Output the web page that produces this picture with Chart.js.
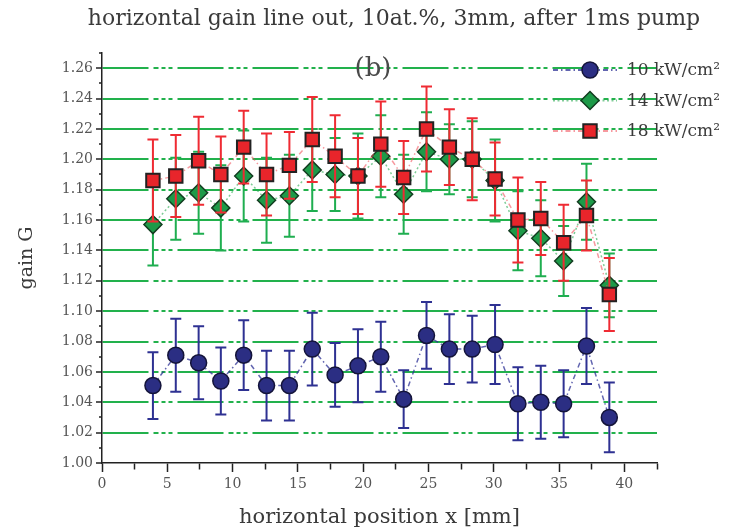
<!DOCTYPE html>
<html>
<head>
<meta charset="utf-8">
<script src="https://cdn.jsdelivr.net/npm/chart.js@4.4.1/dist/chart.umd.min.js"></script>
<style>
  body { margin: 0; background: #fff; }
  #wrap { width: 732px; height: 532px; }
</style>
</head>
<body>
<div id="wrap"><canvas id="chartGain" width="732" height="532"></canvas></div>
<script>
// valores (posicao horizontal em mm)
var posicoes = [3.9, 5.65, 7.4, 9.1, 10.85, 12.6, 14.35, 16.1, 17.85, 19.6, 21.35,
  23.1, 24.85, 26.6, 28.35, 30.1, 31.85, 33.6, 35.35, 37.1, 38.85];

var ganho10 = [1.051, 1.071, 1.066, 1.054, 1.071, 1.051, 1.051, 1.075, 1.058, 1.064, 1.070,
  1.042, 1.084, 1.075, 1.075, 1.078, 1.039, 1.040, 1.039, 1.077, 1.030];
var erro10 = [0.022, 0.024, 0.024, 0.022, 0.023, 0.023, 0.023, 0.024, 0.021, 0.024, 0.023,
  0.019, 0.022, 0.023, 0.022, 0.026, 0.024, 0.024, 0.022, 0.025, 0.023];

var ganho14 = [1.157, 1.174, 1.178, 1.168, 1.189, 1.173, 1.176, 1.193, 1.190, 1.189, 1.202,
  1.177, 1.205, 1.200, 1.200, 1.186, 1.153, 1.148, 1.133, 1.172, 1.117];
var erro14 = [0.027, 0.027, 0.027, 0.028, 0.030, 0.028, 0.027, 0.027, 0.024, 0.028, 0.027,
  0.026, 0.026, 0.023, 0.025, 0.027, 0.026, 0.025, 0.023, 0.025, 0.021];

var ganho18 = [1.186, 1.189, 1.199, 1.190, 1.208, 1.190, 1.196, 1.213, 1.202, 1.189, 1.210,
  1.188, 1.220, 1.208, 1.200, 1.187, 1.160, 1.161, 1.145, 1.163, 1.111];
var erro18 = [0.027, 0.027, 0.029, 0.025, 0.024, 0.027, 0.022, 0.028, 0.027, 0.025, 0.028,
  0.024, 0.028, 0.025, 0.027, 0.024, 0.028, 0.024, 0.025, 0.023, 0.024];

var rotulos = ["10 kW/cm\u00b2", "14 kW/cm\u00b2", "18 kW/cm\u00b2"];
var titulo = "horizontal gain line out, 10at.%, 3mm, after 1ms pump";

var erros = [erro10, erro14, erro18];
var coresErro = ["#2e3192", "#1fae50", "#ef2b33"];

function pontos(valores) {
  return posicoes.map(function (x, i) {
    return { x: x, y: valores[i] };
  });
}

Chart.defaults.font.family = '"DejaVu Serif", serif';
Chart.defaults.color = "#444";

// barras de erro desenhadas antes dos marcadores de cada serie
var barrasErro = {
  id: "barrasErro",
  beforeDatasetDraw: function (chart, args) {
    var ctx = chart.ctx;
    var xs = chart.scales.x;
    var ys = chart.scales.y;
    var ds = chart.data.datasets[args.index];
    var err = erros[args.index];
    ctx.save();
    ctx.strokeStyle = coresErro[args.index];
    ctx.lineWidth = 2;
    ds.data.forEach(function (p, i) {
      var px = xs.getPixelForValue(p.x);
      var topo = ys.getPixelForValue(p.y + err[i]);
      var base = ys.getPixelForValue(p.y - err[i]);
      ctx.beginPath();
      ctx.moveTo(px, topo);
      ctx.lineTo(px, base);
      ctx.moveTo(px - 5.5, topo);
      ctx.lineTo(px + 5.5, topo);
      ctx.moveTo(px - 5.5, base);
      ctx.lineTo(px + 5.5, base);
      ctx.stroke();
    });
    ctx.restore();
  },
};

// titulo, "(b)" e legenda no canto
var textos = {
  id: "textos",
  afterDraw: function (chart) {
    var ctx = chart.ctx;
    var area = chart.chartArea;
    ctx.save();
    ctx.fillStyle = "#3a3a3a";
    ctx.textAlign = "center";
    ctx.textBaseline = "middle";
    ctx.font = '22px "DejaVu Serif"';
    ctx.fillText(titulo, 394, 19);

    ctx.font = '26px "DejaVu Serif"';
    ctx.fillStyle = "#4a4a4a";
    ctx.fillText("(b)", 373, 69);

    chart.data.datasets.forEach(function (ds, i) {
      var y = area.top + 17 + i * 30.5;
      var xm = area.right - 67;
      ctx.save();
      ctx.strokeStyle = ds.borderColor;
      ctx.lineWidth = 2;
      ctx.setLineDash(ds.borderDash);
      ctx.beginPath();
      ctx.moveTo(area.right - 104, y);
      ctx.lineTo(area.right - 40, y);
      ctx.stroke();
      ctx.setLineDash([]);
      ctx.fillStyle = ds.pointBackgroundColor;
      ctx.strokeStyle = ds.pointBorderColor;
      ctx.lineWidth = ds.pointBorderWidth;
      Chart.helpers.drawPoint(ctx, {
        pointStyle: ds.pointStyle,
        rotation: 0,
        radius: ds.pointRadius,
        borderWidth: ds.pointBorderWidth,
      }, xm, y);
      ctx.restore();
      ctx.fillStyle = "#3a3a3a";
      ctx.textAlign = "left";
      ctx.font = '17px "DejaVu Serif"';
      ctx.fillText(rotulos[i], area.right - 30, y + 1);
    });
    ctx.restore();
  },
};

var ctx = document.getElementById("chartGain").getContext("2d");

new Chart(ctx, {
  type: "scatter",
  data: {
    datasets: [
      {
        label: rotulos[0],
        data: pontos(ganho10),
        showLine: true,
        borderColor: "rgba(45, 50, 150, 0.75)",
        borderWidth: 1.5,
        borderDash: [5, 3, 1.5, 3],
        pointStyle: "circle",
        pointRadius: 8,
        pointBackgroundColor: "#2b2e83",
        pointBorderColor: "#14143a",
        pointBorderWidth: 1.5,
        order: 3,
      },
      {
        label: rotulos[1],
        data: pontos(ganho14),
        showLine: true,
        borderColor: "rgba(40, 170, 80, 0.6)",
        borderWidth: 1.5,
        borderDash: [2, 2.5],
        pointStyle: "rectRot",
        pointRadius: 9,
        pointBackgroundColor: "#1d9a48",
        pointBorderColor: "#123d20",
        pointBorderWidth: 1.5,
        order: 2,
      },
      {
        label: rotulos[2],
        data: pontos(ganho18),
        showLine: true,
        borderColor: "rgba(240, 70, 80, 0.55)",
        borderWidth: 1.5,
        borderDash: [5, 3, 1.5, 3],
        pointStyle: "rect",
        pointRadius: 9.5,
        pointBackgroundColor: "#e8252b",
        pointBorderColor: "#222",
        pointBorderWidth: 2,
        order: 1,
      },
    ],
  },
  options: {
    responsive: false,
    animation: false,
    layout: {
      padding: { top: 53, right: 75, bottom: 0, left: 0 },
    },
    plugins: {
      legend: { display: false },
      tooltip: { enabled: false },
    },
    scales: {
      x: {
        type: "linear",
        min: 0,
        max: 42.5,
        afterFit: function (scale) {
          scale.height = 69;
        },
        border: { color: "#222", width: 1.5 },
        grid: {
          drawOnChartArea: false,
          tickLength: 9,
          tickColor: "#222",
          tickWidth: 1.5,
          tickBorderDash: function (c) {
            return c.tick && c.tick.value % 5 === 0 ? [] : [6, 20];
          },
        },
        ticks: {
          stepSize: 2.5,
          autoSkip: false,
          maxRotation: 0,
          padding: 4,
          color: "#555",
          font: { size: 14 },
          callback: function (v) {
            return v % 5 === 0 ? String(v) : "";
          },
        },
        title: {
          display: true,
          text: "horizontal position x [mm]",
          color: "#3a3a3a",
          font: { size: 21 },
          padding: { top: 0, bottom: 2 },
        },
      },
      y: {
        min: 1.0,
        max: 1.27,
        afterFit: function (scale) {
          scale.width = 102;
        },
        // no Chart.js v4 o tracejado das linhas de grade vem de border.dash
        border: { color: "#222", width: 1.5, dash: [46, 5, 5, 3, 4, 3, 4, 5] },
        grid: {
          color: function (c) {
            var k = Math.round(c.tick.value * 100);
            return k % 2 === 0 && k > 100 ? "#22b14c" : "rgba(0,0,0,0)";
          },
          lineWidth: 2,
          tickColor: "#222",
          tickWidth: 1.5,
          tickLength: 6,
          tickBorderDash: function (c) {
            var k = Math.round(c.tick.value * 100);
            return k % 2 === 0 ? [] : [0, 3, 3, 20];
          },
        },
        ticks: {
          stepSize: 0.01,
          autoSkip: false,
          padding: 3,
          color: "#555",
          font: { size: 14 },
          callback: function (v) {
            return Math.round(v * 100) % 2 === 0 ? v.toFixed(2) : "";
          },
        },
        title: {
          display: true,
          text: "gain G",
          color: "#3a3a3a",
          font: { size: 19 },
          padding: { top: 16, bottom: 0 },
        },
      },
    },
  },
  plugins: [barrasErro, textos],
});
</script>
</body>
</html>
